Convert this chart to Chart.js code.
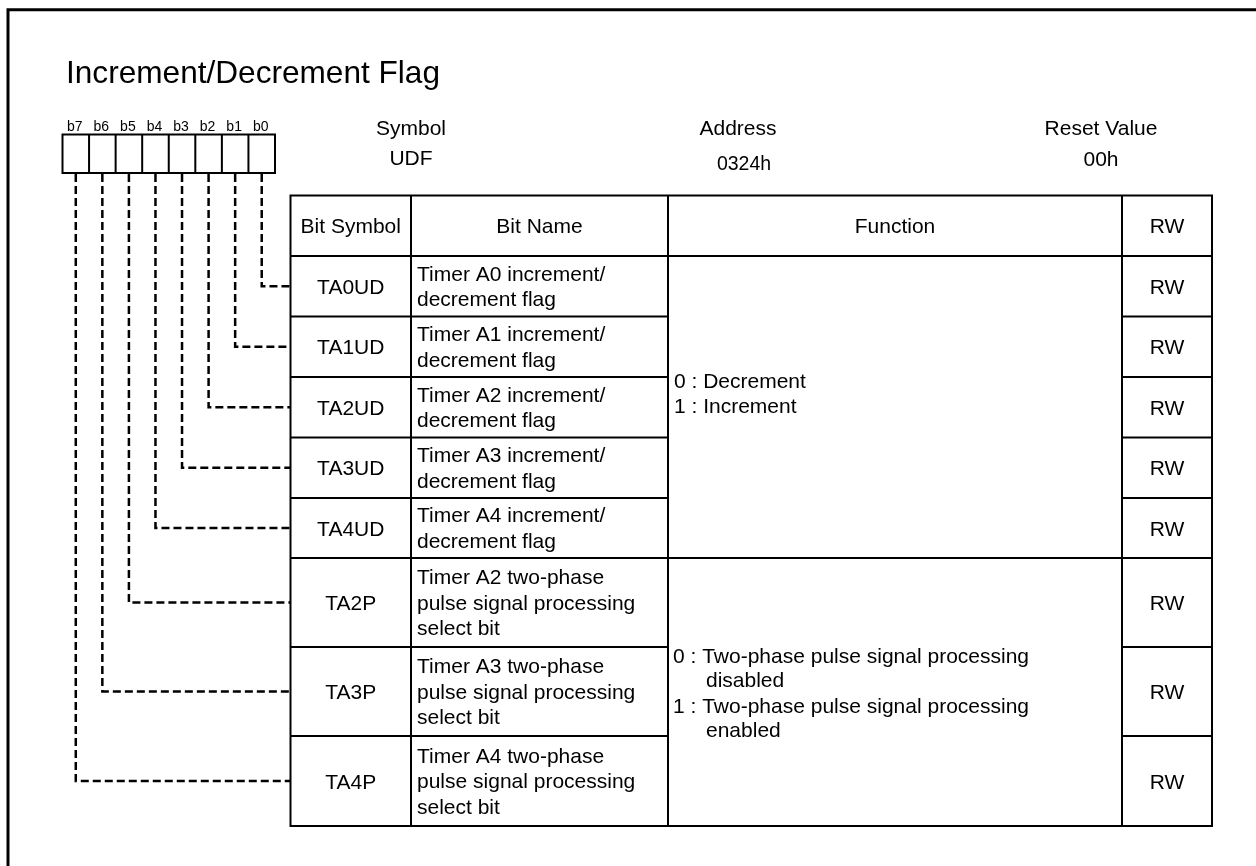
<!DOCTYPE html>
<html>
<head>
<meta charset="utf-8">
<script src="https://cdn.jsdelivr.net/npm/chart.js@4.4.1/dist/chart.umd.min.js"></script>
<style>
  html, body { margin: 0; padding: 0; background: #ffffff; overflow: hidden; }
  canvas { display: block; }
</style>
</head>
<body>
<canvas id="c" width="1256" height="866"></canvas>
<script>
// ---------------- data ----------------
const titleText = 'Increment/Decrement Flag';
const bitLabels = ['b7', 'b6', 'b5', 'b4', 'b3', 'b2', 'b1', 'b0'];
const infoLabels = ['Symbol', 'Address', 'Reset Value'];
const infoValues = ['UDF', '0324h', '00h'];
const headers = ['Bit Symbol', 'Bit Name', 'Function', 'RW'];
const bitSymbols = ['TA0UD', 'TA1UD', 'TA2UD', 'TA3UD', 'TA4UD', 'TA2P', 'TA3P', 'TA4P'];
const bitPositions = [0, 1, 2, 3, 4, 5, 6, 7];
const bitNames = [
  ['Timer A0 increment/', 'decrement flag'],
  ['Timer A1 increment/', 'decrement flag'],
  ['Timer A2 increment/', 'decrement flag'],
  ['Timer A3 increment/', 'decrement flag'],
  ['Timer A4 increment/', 'decrement flag'],
  ['Timer A2 two-phase', 'pulse signal processing', 'select bit'],
  ['Timer A3 two-phase', 'pulse signal processing', 'select bit'],
  ['Timer A4 two-phase', 'pulse signal processing', 'select bit']
];
const rwValues = ['RW', 'RW', 'RW', 'RW', 'RW', 'RW', 'RW', 'RW'];
const functionGroup1 = ['0 : Decrement', '1 : Increment'];
const functionGroup2 = [
  ['0 : Two-phase pulse signal processing', 'disabled'],
  ['1 : Two-phase pulse signal processing', 'enabled']
];

// ---------------- layout (pixel units of the hidden linear scales) ----------------
const W = 1256, H = 866;
const FONT = '"Liberation Sans", Arial, Helvetica, sans-serif';
const colX = [290.5, 411, 668, 1122, 1212];
const rowY = [195.5, 256, 316.5, 377, 437.5, 498, 558, 647, 736, 826];
const groupBreak = 6; // index in rowY where the function column is split
const box = { left: 62.5, right: 275, top: 134.5, bottom: 173 };
const cellW = (box.right - box.left) / 8;

function seg(points) { return points.map(p => ({ x: p[0], y: p[1] })); }
function multi(segments) {
  const out = [];
  segments.forEach((s, i) => {
    if (i > 0) out.push({ x: null, y: null });
    s.forEach(p => out.push({ x: p[0], y: p[1] }));
  });
  return out;
}

const solidBase = {
  showLine: true, pointRadius: 0, borderColor: '#000', backgroundColor: '#000',
  fill: false, tension: 0, spanGaps: false, clip: false,
  borderCapStyle: 'square', borderJoinStyle: 'miter'
};

// outer frame
const frameDs = Object.assign({}, solidBase, {
  borderWidth: 3, data: seg([[8, H + 5], [8, 9.7], [W + 5, 9.7]])
});

// bit box
const boxSegs = [[[box.left, box.top], [box.right, box.top], [box.right, box.bottom], [box.left, box.bottom], [box.left, box.top]]];
for (let i = 1; i < 8; i++) {
  const x = box.left + i * cellW;
  boxSegs.push([[x, box.top], [x, box.bottom]]);
}
const boxDs = Object.assign({}, solidBase, { borderWidth: 2, data: multi(boxSegs) });

// table grid
const gridSegs = [];
colX.forEach(x => gridSegs.push([[x, rowY[0]], [x, rowY[rowY.length - 1]]]));
rowY.forEach((y, i) => {
  if (i <= 1 || i === groupBreak || i === rowY.length - 1) {
    gridSegs.push([[colX[0], y], [colX[4], y]]);
  } else {
    gridSegs.push([[colX[0], y], [colX[2], y]]);
    gridSegs.push([[colX[3], y], [colX[4], y]]);
  }
});
const gridDs = Object.assign({}, solidBase, { borderWidth: 2, data: multi(gridSegs) });

// dashed connectors, one per bit
const rowCenter = i => (rowY[i + 1] + rowY[i + 2]) / 2;
const connectorDs = bitSymbols.map((s, i) => {
  const bit = bitPositions[i];
  const cx = box.left + (7 - bit + 0.5) * cellW;
  const cy = rowCenter(i);
  return Object.assign({}, solidBase, {
    borderWidth: 2.5, borderDash: [8, 4], borderCapStyle: 'butt',
    data: seg([[cx, box.bottom + 1], [cx, cy], [colX[0], cy]])
  });
});

// ---------------- text plugin (positions through the chart scales) ----------------
const textPlugin = {
  id: 'registerText',
  afterDatasetsDraw(chart) {
    const ctx = chart.ctx;
    const sx = chart.scales.x, sy = chart.scales.y;
    const px = v => sx.getPixelForValue(v);
    const py = v => sy.getPixelForValue(v);
    function txt(s, x, y, size, align) {
      ctx.font = size + 'px ' + FONT;
      ctx.textAlign = align || 'center';
      ctx.textBaseline = 'alphabetic';
      ctx.fillText(s, px(x), py(y));
    }
    ctx.save();
    ctx.fillStyle = '#000';

    // title
    txt(titleText, 66, 83, 31.6, 'left');

    // bit labels
    bitLabels.forEach((b, i) => txt(b, box.left + (i + 0.5) * cellW - 1, 130.5, 14, 'center'));

    // register info
    const infoX = [411, 738, 1101];
    const valY = [165, 170, 166];
    infoLabels.forEach((l, i) => {
      txt(l, infoX[i], 135, 21, 'center');
      txt(infoValues[i], infoX[i] + (i === 1 ? 6 : 0), valY[i], i === 1 ? 19.5 : 21, 'center');
    });

    // headers
    headers.forEach((h, i) => txt(h, (colX[i] + colX[i + 1]) / 2, (rowY[0] + rowY[1]) / 2 + 7, 21, 'center'));

    // rows
    const lh = 25.5;
    bitSymbols.forEach((s, i) => {
      const cy = rowCenter(i);
      txt(s, (colX[0] + colX[1]) / 2, cy + 7.5, 21, 'center');
      txt(rwValues[i], (colX[3] + colX[4]) / 2, cy + 7.5, 21, 'center');
      const lines = bitNames[i];
      lines.forEach((ln, k) => {
        txt(ln, colX[1] + 6, cy + (k - (lines.length - 1) / 2) * lh + 7, 21, 'left');
      });
    });

    // function group 1
    txt(functionGroup1[0], colX[2] + 6, 387.5, 21, 'left');
    txt(functionGroup1[1], colX[2] + 6, 413, 21, 'left');

    // function group 2
    const g2y = [[663.3, 686.7], [713.3, 736.7]];
    functionGroup2.forEach((item, k) => {
      txt(item[0], colX[2] + 5, g2y[k][0], 21, 'left');
      txt(item[1], colX[2] + 38, g2y[k][1], 21, 'left');
    });

    ctx.restore();
  }
};

new Chart(document.getElementById('c').getContext('2d'), {
  type: 'scatter',
  data: { datasets: [frameDs, boxDs, gridDs].concat(connectorDs) },
  options: {
    responsive: false,
    animation: false,
    devicePixelRatio: 1,
    events: [],
    layout: { padding: 0 },
    scales: {
      x: { type: 'linear', min: 0, max: W, display: false },
      y: { type: 'linear', min: 0, max: H, reverse: true, display: false }
    },
    plugins: { legend: { display: false }, tooltip: { enabled: false }, title: { display: false } }
  },
  plugins: [textPlugin]
});
</script>
</body>
</html>
